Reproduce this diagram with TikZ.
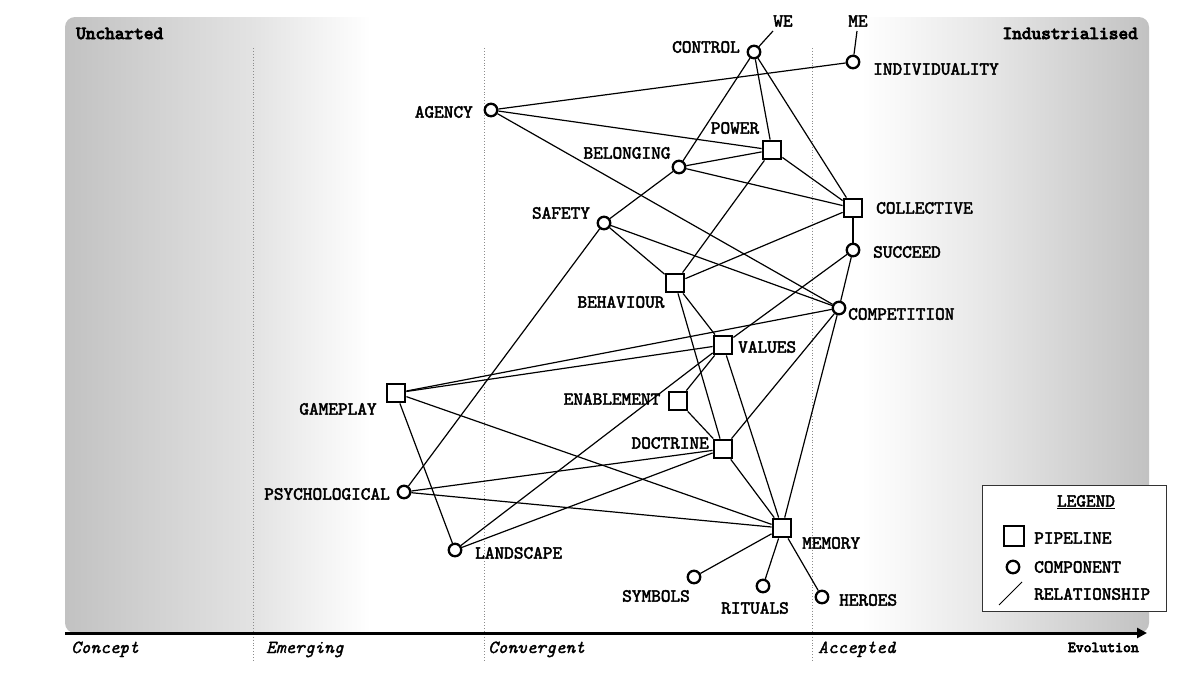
\documentclass[tikz,border=0pt]{standalone}
\usepackage{fontspec}
\usetikzlibrary{arrows.meta}
\IfFontExistsTF{lmmono10-regular.otf}{%
  \newfontfamily\courlab{lmmono10-regular.otf}[FakeBold=2.5]
  \newfontfamily\courit{lmmono10-italic.otf}[FakeBold=1.5]
  \newfontfamily\courbf{lmmono10-regular.otf}[FakeBold=4.5]
}{%
  \newfontfamily\courlab{Liberation Mono}
  \newfontfamily\courit{Liberation Mono Italic}
  \newfontfamily\courbf{Liberation Mono Bold}
}
\definecolor{g0}{gray}{0.76}
\definecolor{g1}{gray}{0.89}
\definecolor{g2}{gray}{0.91}
\pgfdeclarehorizontalshading{wardleybg}{100bp}{color(0bp)=(g0); color(25bp)=(g0); color(33.7bp)=(g1); color(39.1bp)=(white); color(61.7bp)=(white); color(67.2bp)=(g2); color(75bp)=(g0); color(100bp)=(g0)}
\begin{document}
\begin{tikzpicture}[x=1pt,y=-1pt,
  comp/.style={circle,draw,line width=2.3pt,minimum size=12.5pt,inner sep=0pt,fill=white},
  pipe/.style={rectangle,draw,line width=2.3pt,minimum size=18.5pt,inner sep=0pt,fill=white},
  lbl/.style={inner sep=0pt,font=\courlab\fontsize{18.4}{20}\selectfont},
  stage/.style={inner sep=0pt,anchor=base west,font=\courit\fontsize{18.4}{20}\selectfont},
  corner/.style={inner sep=0pt,font=\courbf\fontsize{18.4}{20}\selectfont},
  rel/.style={line width=1.2pt},
  evo/.style={draw=black!45,dotted,line width=0.9pt}]
\useasboundingbox (0,0) rectangle (1200,675);
% background
\shade[shading=wardleybg,rounded corners=10pt] (65,17) rectangle (1149,633);
% evolution dividers
\draw[evo] (253,48) -- (253,662);
\draw[evo] (484,48) -- (484,662);
\draw[evo] (812,48) -- (812,662);
% axis
\coordinate (axstart) at (65,633);
\coordinate (axend) at (1147,633);
\draw[line width=3pt,-{Triangle[length=10pt,width=10pt]}] (axstart) -- (axend);
\node[stage] (concept) at (71,653) {Concept};
\node[stage] (emerging) at (266,653) {Emerging};
\node[stage] (convergent) at (488,653) {Convergent};
\node[stage] (accepted) at (818,653) {Accepted};
\node[inner sep=0pt,anchor=base east,font=\courbf\fontsize{15}{17}\selectfont] (evolution) at (1139,652) {Evolution};
\node[corner,anchor=base west] (uncharted) at (76,39) {Uncharted};
\node[corner,anchor=base east] (industrialised) at (1138,39) {Industrialised};
% nodes
\node[comp] (control) at (754,52) {};
\node[comp] (indiv) at (853,62) {};
\node[comp] (agency) at (491,110) {};
\node[pipe] (power) at (772,150) {};
\node[comp] (belonging) at (679,167) {};
\node[pipe] (collective) at (853,208) {};
\node[comp] (safety) at (604,223) {};
\node[comp] (succeed) at (853,250) {};
\node[pipe] (behaviour) at (675,283) {};
\node[comp] (competition) at (839,308) {};
\node[pipe] (values) at (723,345) {};
\node[pipe] (gameplay) at (396,393) {};
\node[pipe] (enablement) at (678,401) {};
\node[pipe] (doctrine) at (723,449) {};
\node[comp] (psychological) at (404,492) {};
\node[pipe] (memory) at (782,528) {};
\node[comp] (landscape) at (455,550) {};
\node[comp] (symbols) at (694,577) {};
\node[comp] (rituals) at (763,586) {};
\node[comp] (heroes) at (822,597) {};
\coordinate (weend) at (773,31);
\coordinate (meend) at (857,31);
% relationships
\draw[rel] (control) -- (weend);
\draw[rel] (indiv) -- (meend);
\draw[rel] (agency) -- (indiv);
\draw[rel] (agency) -- (power);
\draw[rel] (agency) -- (competition);
\draw[rel] (control) -- (belonging);
\draw[rel] (control) -- (power);
\draw[rel] (control) -- (collective);
\draw[rel] (belonging) -- (power);
\draw[rel] (belonging) -- (collective);
\draw[rel] (belonging) -- (safety);
\draw[rel] (power) -- (collective);
\draw[rel] (power) -- (behaviour);
\draw[rel] (safety) -- (behaviour);
\draw[rel] (safety) -- (competition);
\draw[rel] (safety) -- (psychological);
\draw[rel] (behaviour) -- (collective);
\draw[rel] (behaviour) -- (values);
\draw[rel] (behaviour) -- (doctrine);
\draw[rel] (collective) -- (succeed);
\draw[rel] (succeed) -- (competition);
\draw[rel] (succeed) -- (values);
\draw[rel] (values) -- (landscape);
\draw[rel] (values) -- (enablement);
\draw[rel] (values) -- (memory);
\draw[rel] (competition) -- (gameplay);
\draw[rel] (competition) -- (doctrine);
\draw[rel] (competition) -- (memory);
\draw[rel] (gameplay) -- (values);
\draw[rel] (gameplay) -- (memory);
\draw[rel] (gameplay) -- (landscape);
\draw[rel] (enablement) -- (doctrine);
\draw[rel] (doctrine) -- (memory);
\draw[rel] (doctrine) -- (psychological);
\draw[rel] (doctrine) -- (landscape);
\draw[rel] (psychological) -- (memory);
\draw[rel] (memory) -- (symbols);
\draw[rel] (memory) -- (rituals);
\draw[rel] (memory) -- (heroes);
% labels
\node[lbl] (lwe) at (783,21) {WE};
\node[lbl] (lme) at (858,21) {ME};
\node[lbl,anchor=east] (lcontrol) at (740,47) {CONTROL};
\node[lbl,anchor=west] (lindiv) at (873,69) {INDIVIDUALITY};
\node[lbl,anchor=east] (lagency) at (473,112) {AGENCY};
\node[lbl] (lpower) at (735,128) {POWER};
\node[lbl] (lbelonging) at (627,153) {BELONGING};
\node[lbl,anchor=west] (lcollective) at (876,208) {COLLECTIVE};
\node[lbl] (lsafety) at (561,213) {SAFETY};
\node[lbl,anchor=west] (lsucceed) at (873,252) {SUCCEED};
\node[lbl] (lbehaviour) at (621,302) {BEHAVIOUR};
\node[lbl,anchor=west] (lcompetition) at (848,314) {COMPETITION};
\node[lbl,anchor=west] (lvalues) at (738,347) {VALUES};
\node[lbl] (lgameplay) at (338,409) {GAMEPLAY};
\node[lbl] (lenablement) at (612,399) {ENABLEMENT};
\node[lbl,anchor=east] (ldoctrine) at (709,443) {DOCTRINE};
\node[lbl,anchor=east] (lpsych) at (390,494) {PSYCHOLOGICAL};
\node[lbl,anchor=west] (lmemory) at (802,543) {MEMORY};
\node[lbl,anchor=west] (llandscape) at (475,553) {LANDSCAPE};
\node[lbl] (lsymbols) at (656,596) {SYMBOLS};
\node[lbl] (lrituals) at (755,608) {RITUALS};
\node[lbl,anchor=west] (lheroes) at (839,600) {HEROES};
% legend
\node[draw=black!80,line width=1pt,fill=white,minimum width=184pt,minimum height=126pt,inner sep=0pt] (legendbox) at (1074,548.5) {};
\node[lbl] (legendtitle) at (1086,502) {\underline{LEGEND}};
\node[pipe,minimum size=20pt] (legpipe) at (1014,536) {};
\node[comp] (legcomp) at (1013,567) {};
\coordinate (legrel1) at (999,605);
\coordinate (legrel2) at (1022,582);
\draw[line width=1pt] (legrel1) -- (legrel2);
\node[lbl,anchor=west] (lpipeline) at (1034,538) {PIPELINE};
\node[lbl,anchor=west] (lcomponent) at (1034,567) {COMPONENT};
\node[lbl,anchor=west] (lrelationship) at (1034,594) {RELATIONSHIP};
\end{tikzpicture}
\end{document}
